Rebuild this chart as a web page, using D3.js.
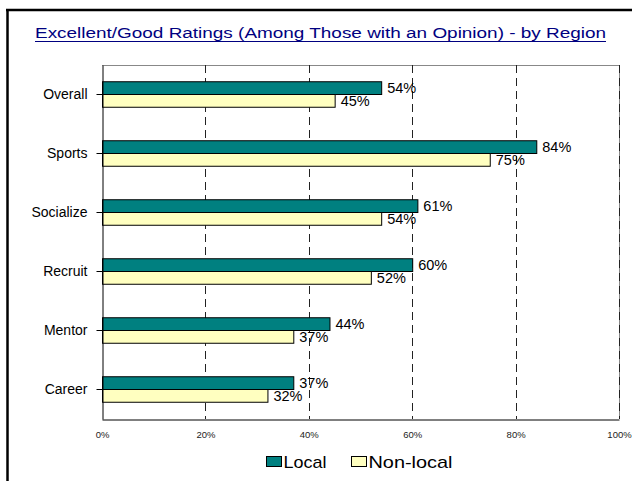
<!DOCTYPE html>
<html>
<head>
<meta charset="utf-8">
<script src="https://cdn.jsdelivr.net/npm/d3@7"></script>
<style>
  html, body { margin: 0; padding: 0; background: #fff; }
  svg { display: block; font-family: Arial, "Liberation Sans", sans-serif; }
</style>
</head>
<body>
<svg id="chart" width="632" height="481"></svg>
<script>
const categories = ["Overall", "Sports", "Socialize", "Recruit", "Mentor", "Career"];
const localValues = [54, 84, 61, 60, 44, 37];
const nonLocalValues = [45, 75, 54, 52, 37, 32];
const seriesNames = ["Local", "Non-local"];
const xTicks = [0, 20, 40, 60, 80, 100];
const titleText = "Excellent/Good Ratings (Among Those with an Opinion) - by Region";

(function () {
const colors = { "Local": "#008080", "Non-local": "#FFFFC0" };
const svg = d3.select("#chart");

// frame
svg.append("line").attr("x1", 7.5).attr("x2", 7.5).attr("y1", 9).attr("y2", 481)
  .attr("stroke", "#000").attr("stroke-width", 2.5);
svg.append("line").attr("x1", 6).attr("x2", 632).attr("y1", 10).attr("y2", 10)
  .attr("stroke", "#000").attr("stroke-width", 2.5);

// title
const tX1 = 35, tX2 = 606;
svg.append("text").attr("x", tX1).attr("y", 38)
  .attr("fill", "#000080").style("font-size", "15.5px")
  .attr("textLength", tX2 - tX1).attr("lengthAdjust", "spacingAndGlyphs")
  .text(titleText);
svg.append("line").attr("x1", tX1).attr("x2", tX2)
  .attr("y1", 41.5).attr("y2", 41.5).attr("stroke", "#000080").attr("stroke-width", 1);

const pLeft = 102, pRight = 619, pTop = 65, pBottom = 419;
const x = d3.scaleLinear().domain([0, 100]).range([pLeft, pRight]);
const y = d3.scaleBand().domain(categories).range([pTop, pBottom]);
const inner = d3.scaleBand().domain(seriesNames).range([0, 25.5]);

const data = categories.map((c, i) => ({ cat: c, vals: [
  { s: "Local", v: localValues[i] }, { s: "Non-local", v: nonLocalValues[i] }] }));

// plot border (top, right gray)
svg.append("line").attr("x1", pLeft).attr("x2", pRight).attr("y1", pTop + 0.5).attr("y2", pTop + 0.5)
  .attr("stroke", "#888").attr("stroke-width", 1);
svg.append("line").attr("x1", pRight + 0.5).attr("x2", pRight + 0.5).attr("y1", pTop).attr("y2", pBottom)
  .attr("stroke", "#888").attr("stroke-width", 1);

// gridlines
svg.append("g").selectAll("line").data(xTicks.filter(t => t > 0)).join("line")
  .attr("x1", d => Math.round(x(d)) + 0.5).attr("x2", d => Math.round(x(d)) + 0.5)
  .attr("y1", pTop).attr("y2", pBottom)
  .attr("stroke", "#222").attr("stroke-width", 1).attr("stroke-dasharray", "8,5");

// bars
const groups = svg.append("g").selectAll("g").data(data).join("g")
  .attr("transform", d => `translate(0,${y(d.cat) + y.bandwidth() / 2 - 12.75})`);
groups.selectAll("rect").data(d => d.vals).join("rect")
  .attr("x", x(0) + 0.5).attr("y", d => inner(d.s))
  .attr("width", d => x(d.v) - x(0)).attr("height", inner.bandwidth())
  .attr("fill", d => colors[d.s]).attr("stroke", "#000").attr("stroke-width", 1);
groups.selectAll("text").data(d => d.vals).join("text")
  .attr("x", d => x(d.v) + 6).attr("y", d => inner(d.s) + inner.bandwidth() / 2)
  .attr("dy", "0.36em").style("font-size", "14.5px").attr("fill", "#000")
  .text(d => d.v + "%");

// y axis
const yAxis = svg.append("g").attr("transform", `translate(${pLeft + 0.5},0)`)
  .call(d3.axisLeft(y).tickSize(6).tickPadding(9).tickSizeOuter(0));
yAxis.select(".domain").attr("stroke", "#000");
yAxis.selectAll("text").style("font-size", "14px").attr("fill", "#000").style("font-family", "Arial, 'Liberation Sans', sans-serif");

// x axis
const xAxis = svg.append("g").attr("transform", `translate(0,${pBottom + 0.5})`)
  .call(d3.axisBottom(x).tickValues(xTicks).tickFormat(d => d + "%").tickSize(0).tickPadding(12).tickSizeOuter(0));
xAxis.select(".domain").attr("stroke", "#000");
xAxis.selectAll("text").style("font-size", "9.5px").attr("fill", "#222").style("font-family", "Arial, 'Liberation Sans', sans-serif");

// legend
const legendItems = [{ s: "Local", x: 266, w: 43 }, { s: "Non-local", x: 351, w: 84 }];
const lg = svg.append("g").selectAll("g").data(legendItems).join("g")
  .attr("transform", d => `translate(${d.x},456)`);
lg.append("rect").attr("x", 0.5).attr("y", 0.5).attr("width", 15).attr("height", 10)
  .attr("fill", d => colors[d.s]).attr("stroke", "#000").attr("stroke-width", 1);
lg.append("text").attr("x", 17.5).attr("y", 5.5).attr("dy", "0.36em")
  .style("font-size", "17px").attr("fill", "#000")
  .attr("textLength", d => d.w).attr("lengthAdjust", "spacingAndGlyphs")
  .text(d => d.s);
})();
</script>
</body>
</html>
